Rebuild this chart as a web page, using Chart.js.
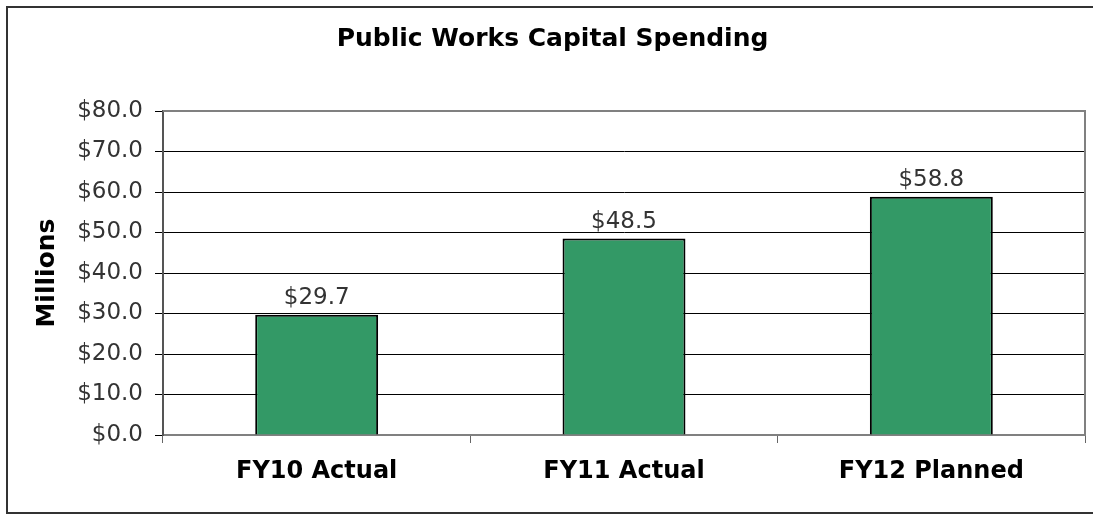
<!DOCTYPE html>
<html>
<head>
<meta charset="utf-8">
<script src="https://cdn.jsdelivr.net/npm/chart.js@4"></script>
<style>
  body { margin: 0; background: #fff; }
  #wrap { position: relative; width: 1093px; height: 514px; overflow: hidden; }
  #frame { position: absolute; left: 6px; top: 6px; width: 1100px; height: 504px; border: 2px solid #333; }
  canvas { position: absolute; left: 0; top: 0; }
</style>
</head>
<body>
<div id="wrap">
  <div id="frame"></div>
  <canvas id="spendChart" width="1093" height="514"></canvas>
</div>
<script>
  // data
  const categories = ["FY10 Actual", "FY11 Actual", "FY12 Planned"];
  const spending = [29.7, 48.5, 58.8];
  const yTicks = [0, 10, 20, 30, 40, 50, 60, 70, 80];

  // value labels above bars + plot border
  const extras = {
    id: 'extras',
    afterDatasetsDraw(chart) {
      const ctx = chart.ctx;
      const area = chart.chartArea;
      ctx.save();
      ctx.strokeStyle = '#808080';
      ctx.lineWidth = 2;
      ctx.beginPath();
      ctx.moveTo(area.left, area.top);
      ctx.lineTo(area.right, area.top);
      ctx.lineTo(area.right, area.bottom);
      ctx.stroke();
      ctx.font = '23px "DejaVu Sans"';
      ctx.fillStyle = '#333';
      ctx.textAlign = 'center';
      ctx.textBaseline = 'bottom';
      chart.getDatasetMeta(0).data.forEach(function(bar, i) {
        ctx.fillText('$' + spending[i].toFixed(1), bar.x, bar.y - 5);
      });
      ctx.restore();
    }
  };

  new Chart(document.getElementById('spendChart'), {
    type: 'bar',
    data: {
      labels: categories,
      datasets: [{
        data: spending,
        backgroundColor: '#339966',
        borderColor: '#000',
        borderWidth: 2,
        barPercentage: 0.4,
        categoryPercentage: 1
      }]
    },
    options: {
      responsive: false,
      animation: false,
      layout: { padding: { left: 20, right: 8, top: 0, bottom: 0 } },
      plugins: {
        legend: { display: false },
        tooltip: { enabled: false },
        title: {
          display: true,
          text: 'Public Works Capital Spending',
          color: '#000',
          font: { size: 25, family: 'DejaVu Sans', weight: 'bold' },
          padding: { top: 24, bottom: 57 }
        }
      },
      scales: {
        x: {
          afterFit: function(scale) { scale.height = 79; },
          grid: {
            offset: true,
            drawOnChartArea: false,
            drawTicks: true,
            tickLength: 8,
            color: '#666'
          },
          border: { color: '#808080', width: 2 },
          ticks: {
            color: '#000',
            padding: 14,
            font: { size: 24, family: 'DejaVu Sans', weight: 'bold' }
          }
        },
        y: {
          min: 0,
          max: 80,
          afterFit: function(scale) { scale.width = 143; },
          afterBuildTicks: function(scale) {
            scale.ticks = yTicks.map(function(v) { return { value: v }; });
          },
          grid: {
            color: '#000',
            lineWidth: 1,
            tickLength: 8,
            tickColor: '#000'
          },
          border: { color: '#555', width: 2 },
          title: {
            display: true,
            text: 'Millions',
            color: '#000',
            font: { size: 25, family: 'DejaVu Sans', weight: 'bold' },
            padding: { top: 12, bottom: 0 }
          },
          ticks: {
            color: '#333',
            padding: 12,
            font: { size: 23, family: 'DejaVu Sans' },
            callback: function(value) { return '$' + value.toFixed(1); }
          }
        }
      }
    },
    plugins: [extras]
  });
</script>
</body>
</html>
